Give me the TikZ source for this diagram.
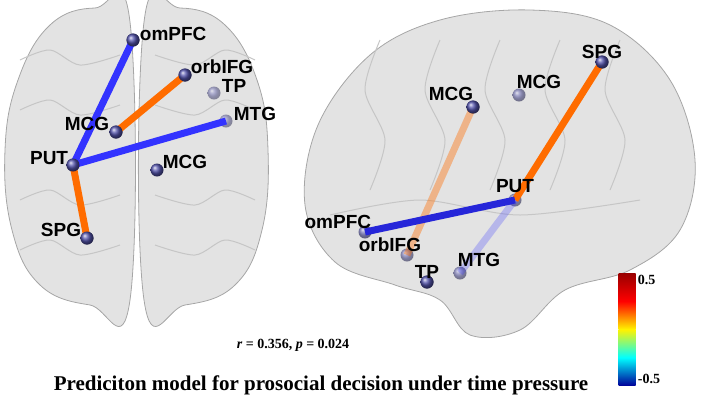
\documentclass[tikz,border=0pt]{standalone}
\usepackage{fontspec}
\setmainfont{Liberation Serif}
\newfontfamily\labelfont{Liberation Sans}
\usetikzlibrary{positioning}
\tikzset{
  brain/.style={draw=gray!70, line width=0.8pt, fill=gray!22},
  gyrus/.style={draw=gray!45, line width=1pt},
  roi/.style={circle, minimum size=13pt, inner sep=0pt, ball color=blue!35!gray},
  roilabel/.style={font=\labelfont\bfseries\fontsize{19}{19}\selectfont, inner sep=1pt},
  postube/.style={line width=7pt, draw=orange!85!red},
  negtube/.style={line width=7pt, draw=blue!80},
}
\begin{document}
\begin{tikzpicture}[x=1pt, y=-1pt]
  \useasboundingbox (0,0) rectangle (709,400);

  % axial view
  \draw[brain] plot[smooth cycle, tension=0.7] coordinates {(130,22) (95,8) (50,25) (18,80) (5,150) (12,230) (40,285) (90,305) (130,300)};
  \draw[brain] plot[smooth cycle, tension=0.7] coordinates {(144,22) (180,8) (225,25) (257,80) (268,150) (262,230) (235,285) (185,305) (144,300)};
  \foreach \y in {60,110,200,250} {
    \draw[gyrus] plot[smooth] coordinates {(20,\y) (50,\y-10) (80,\y+5) (120,\y-5)};
    \draw[gyrus] plot[smooth] coordinates {(155,\y-5) (195,\y+5) (225,\y-10) (255,\y)};
  }

  % lateral view
  \draw[brain] plot[smooth cycle, tension=0.6] coordinates {(305,205) (318,125) (370,55) (440,20) (530,10) (610,25) (670,80) (695,160) (680,230) (630,270) (565,290) (520,330) (470,335) (440,300) (395,285) (335,262)};
  \foreach \x in {380,440,500,560,620} {
    \draw[gyrus] plot[smooth] coordinates {(\x,40) (\x-15,90) (\x+5,140) (\x-10,190)};
  }
  \draw[gyrus] plot[smooth] coordinates {(330,215) (420,200) (520,215) (640,200)};

  % axial nodes
  \node[roi] (aomPFC) at (133,40) {};
  \node[roi] (aorbIFG) at (185,75) {};
  \node[roi, opacity=0.5] (aTP) at (214,93) {};
  \node[roi, opacity=0.5] (aMTG) at (226,121) {};
  \node[roi] (aMCGl) at (116,132) {};
  \node[roi] (aPUT) at (73,165) {};
  \node[roi] (aMCGr) at (157,170) {};
  \node[roi] (aSPG) at (87,238) {};

  \draw[negtube] (aPUT.center) -- (aomPFC.center);
  \draw[negtube] (aPUT.center) -- (aMTG.center);
  \draw[postube] (aMCGl.center) -- (aorbIFG.center);
  \draw[postube] (aPUT.center) -- (aSPG.center);
  \foreach \n in {aomPFC,aorbIFG,aMCGl,aPUT,aSPG} \node[roi] at (\n) {};

  \node[roilabel, right=-1pt of aomPFC, yshift=6pt] {omPFC};
  \node[roilabel, right=-2pt of aorbIFG, yshift=8pt] {orbIFG};
  \node[roilabel, right=0pt of aTP, yshift=7pt] {TP};
  \node[roilabel, right=0pt of aMTG, yshift=7pt] {MTG};
  \node[roilabel, left=-1pt of aMCGl, yshift=8pt] {MCG};
  \node[roilabel, left=-3pt of aPUT, yshift=7pt] {PUT};
  \node[roilabel, right=-2pt of aMCGr, yshift=8pt] {MCG};
  \node[roilabel, left=-2pt of aSPG, yshift=8pt] {SPG};

  % lateral nodes
  \node[roi] (lSPG) at (602,62) {};
  \node[roi] (lMCGa) at (473,107) {};
  \node[roi, opacity=0.6] (lMCGb) at (519,95) {};
  \node[roi, opacity=0.6] (lPUT) at (515,200) {};
  \node[roi, opacity=0.7] (lomPFC) at (365,232) {};
  \node[roi, opacity=0.6] (lorbIFG) at (407,255) {};
  \node[roi] (lTP) at (427,282) {};
  \node[roi, opacity=0.6] (lMTG) at (460,273) {};

  \draw[postube, opacity=0.4] (lMCGa.center) -- (lorbIFG.center);
  \draw[postube] (lSPG.center) -- (lPUT.center);
  \draw[negtube, opacity=0.25] (lPUT.center) -- (lMTG.center);
  \draw[negtube, draw=blue!70!gray] (lPUT.center) -- (lomPFC.center);
  \foreach \n in {lSPG,lMCGa,lTP} \node[roi] at (\n) {};

  \node[roilabel, above=-5pt of lSPG] {SPG};
  \node[roilabel, left=-8pt of lMCGa, yshift=13pt] {MCG};
  \node[roilabel, right=-10pt of lMCGb, yshift=13pt] {MCG};
  \node[roilabel, above=-1pt of lPUT] {PUT};
  \node[roilabel, left=-14pt of lomPFC, yshift=10pt] {omPFC};
  \node[roilabel, left=-22pt of lorbIFG, yshift=10pt] {orbIFG};
  \node[roilabel, above=-4pt of lTP] {TP};
  \node[roilabel, right=-10pt of lMTG, yshift=13pt] {MTG};

  % colour bar
  \node[minimum width=17pt, minimum height=56pt, inner sep=0pt, anchor=north, top color=red!60!black, bottom color=yellow!90!orange, middle color=red] (cbtop) at (627,273) {};
  \node[minimum width=17pt, minimum height=56pt, inner sep=0pt, below=0pt of cbtop, top color=yellow!90!orange, bottom color=blue!60!black, middle color=cyan] (cbbot) {};
  \node[font=\bfseries\fontsize{14}{14}\selectfont, anchor=north west, inner sep=2pt] at (cbtop.north east) {0.5};
  \node[font=\bfseries\fontsize{14}{14}\selectfont, anchor=south west, inner sep=2pt] at (cbbot.south east) {-0.5};

  \node[font=\bfseries\fontsize{14}{14}\selectfont] (stat) at (293,345) {\textit{r} = 0.356,\ \textit{p} = 0.024};
  \node[font=\bfseries\fontsize{21}{21}\selectfont] (title) at (321,385) {Prediciton model for prosocial decision under time pressure};
\end{tikzpicture}
\end{document}
